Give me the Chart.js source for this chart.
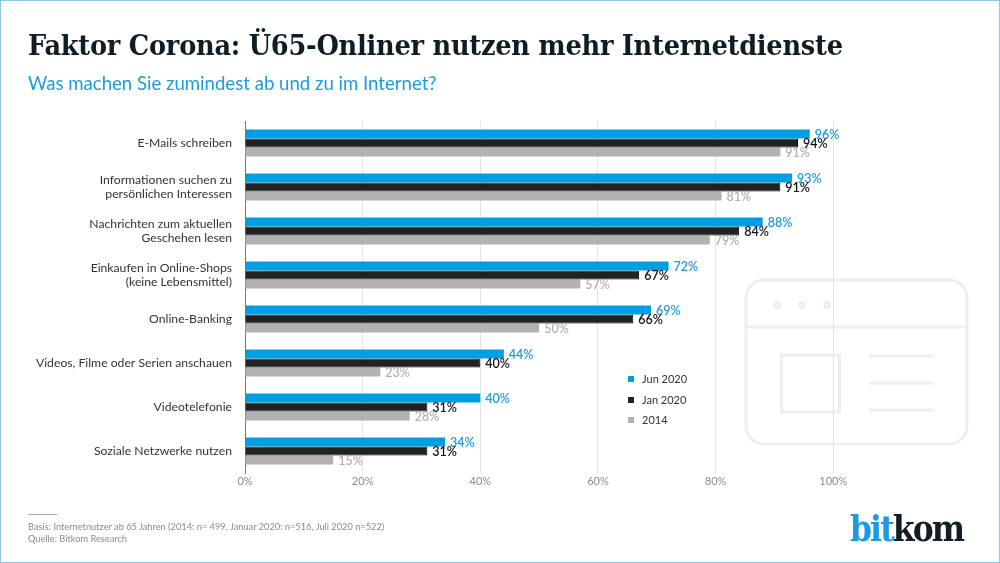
<!DOCTYPE html>
<html lang="de">
<head>
<meta charset="utf-8">
<title>Faktor Corona</title>
<script src="https://cdn.jsdelivr.net/npm/chart.js@4/dist/chart.umd.js"></script>
<style>
    html, body { margin: 0; padding: 0; background: #fff; }
    #page { position: relative; width: 1000px; height: 563px; overflow: hidden; font-family: Lato, sans-serif; }
    #frame { position: absolute; inset: 0; border: 1px solid #8cc6ee; box-sizing: border-box; }
    #icon { position: absolute; left: 0; top: 0; }
    #chart { position: absolute; left: 0; top: 0; }
    #title { position: absolute; left: 28px; top: 28px; font: bold 28.5px "DejaVu Serif Condensed", "DejaVu Serif", serif; letter-spacing: -0.23px; color: #0f1e26; white-space: nowrap; }
    #subtitle { position: absolute; left: 28px; top: 72px; font-size: 18.6px; color: #1a9be2; white-space: nowrap; }
    #rule { position: absolute; left: 28px; top: 514px; width: 29px; height: 1px; background: #aaa; }
    #note { position: absolute; left: 28px; top: 521px; font-size: 9.25px; line-height: 12px; color: #8a8a8a; white-space: nowrap; }
    #logo { position: absolute; left: 850px; top: 508px; font: bold 35px "DejaVu Serif Condensed", "DejaVu Serif", serif; letter-spacing: -1.9px; color: #111e26; white-space: nowrap; }
    #logo span { color: #1a9be2; }
    #legend { position: absolute; left: 628px; top: 369px; font-size: 11px; color: #333; }
    .legend-row { position: absolute; left: 0; height: 20px; line-height: 20px; white-space: nowrap; }
    .legend-box { position: absolute; left: 0; top: 7px; width: 6px; height: 6px; }
    .legend-text { position: absolute; left: 14px; top: 0; }
</style>
</head>
<body>
<div id="page">
    <svg id="icon" width="1000" height="563" fill="none" stroke="#eeeeee" stroke-width="3">
        <rect x="746" y="280" width="221" height="164" rx="18"/>
        <line x1="746" y1="327" x2="967" y2="327"/>
        <circle cx="777" cy="305" r="2.5"/>
        <circle cx="802" cy="305" r="2.5"/>
        <circle cx="827" cy="305" r="2.5"/>
        <rect x="781.5" y="355" width="58" height="57"/>
        <line x1="870" y1="356" x2="932" y2="356" stroke-linecap="round"/>
        <line x1="870" y1="383" x2="932" y2="383" stroke-linecap="round"/>
        <line x1="870" y1="410" x2="932" y2="410" stroke-linecap="round"/>
    </svg>
    <canvas id="chart" width="1000" height="563"></canvas>
    <div id="title">Faktor Corona: Ü65-Onliner nutzen mehr Internetdienste</div>
    <div id="subtitle">Was machen Sie zumindest ab und zu im Internet?</div>
    <div id="legend"></div>
    <div id="rule"></div>
    <div id="note">Basis: Internetnutzer ab 65 Jahren (2014: n= 499, Januar 2020: n=516, Juli 2020 n=522)<br>Quelle: Bitkom Research</div>
    <div id="logo"><span>bit</span>kom</div>
    <div id="frame"></div>
</div>
<script>
// Chart data
const categories = [
    'E-Mails schreiben',
    ['Informationen suchen zu', 'persönlichen Interessen'],
    ['Nachrichten zum aktuellen', 'Geschehen lesen'],
    ['Einkaufen in Online-Shops', '(keine Lebensmittel)'],
    'Online-Banking',
    'Videos, Filme oder Serien anschauen',
    'Videotelefonie',
    'Soziale Netzwerke nutzen'
];
const jun2020 = [96, 93, 88, 72, 69, 44, 40, 34];
const jan2020 = [94, 91, 84, 67, 66, 40, 31, 31];
const year2014 = [91, 81, 79, 57, 50, 23, 28, 15];
const seriesNames = ['Jun 2020', 'Jan 2020', '2014'];
const tickValues = [0, 20, 40, 60, 80, 100];

const BLUE = '#009fe3';
const BLACK = '#222222';
const GRAY = '#b2b2b2';

// Value labels at the end of each bar
const barLabels = {
    id: 'barLabels',
    afterDatasetsDraw(chart) {
        const ctx = chart.ctx;
        const textColors = ['#1a9be2', '#111111', '#b2b2b2'];
        chart.data.datasets.forEach((dataset, i) => {
            ctx.save();
            ctx.font = '600 12.5px Lato, sans-serif';
            ctx.fillStyle = textColors[i];
            ctx.textAlign = 'left';
            ctx.textBaseline = 'middle';
            chart.getDatasetMeta(i).data.forEach((bar, j) => {
                ctx.fillText(dataset.data[j] + '%', bar.x + 5, bar.y + 0.5);
            });
            ctx.restore();
        });
    }
};

const chart = new Chart(document.getElementById('chart'), {
    type: 'bar',
    data: {
        labels: categories,
        datasets: [
            { label: seriesNames[0], data: jun2020, backgroundColor: BLUE },
            { label: seriesNames[1], data: jan2020, backgroundColor: BLACK, borderColor: '#000000', borderWidth: 1 },
            { label: seriesNames[2], data: year2014, backgroundColor: GRAY }
        ]
    },
    options: {
        indexAxis: 'y',
        responsive: false,
        animation: false,
        categoryPercentage: 0.614,
        barPercentage: 1,
        layout: { padding: { left: 0, top: 121, right: 166.7, bottom: 60 } },
        plugins: {
            legend: { display: false },
            title: { display: false },
            tooltip: { enabled: false }
        },
        scales: {
            x: {
                min: 0,
                max: 100,
                afterFit(scale) { scale.height = 30; },
                afterBuildTicks(scale) { scale.ticks = tickValues.map(value => ({ value })); },
                grid: { color: '#e4e4e4', lineWidth: 1, drawTicks: false },
                border: { display: false },
                ticks: {
                    padding: 2,
                    color: '#8c8c8c',
                    font: { family: 'Lato', size: 11 },
                    maxRotation: 0,
                    callback: value => value + '%'
                }
            },
            y: {
                afterFit(scale) { scale.width = 245; },
                grid: { display: false, drawTicks: false },
                border: { color: '#777777', width: 1 },
                ticks: {
                    padding: 13,
                    color: '#333333',
                    autoSkip: false,
                    font: { family: 'Lato', size: 12.2, lineHeight: 1.08 }
                }
            }
        }
    },
    plugins: [barLabels]
});

// Legend next to the bars
const legend = document.getElementById('legend');
chart.data.datasets.forEach((dataset, i) => {
    const row = document.createElement('div');
    row.className = 'legend-row';
    row.style.top = (i * 20.5) + 'px';
    row.innerHTML = `<span class="legend-box" style="background:${dataset.backgroundColor}"></span><span class="legend-text">${dataset.label}</span>`;
    legend.appendChild(row);
});
</script>
</body>
</html>
